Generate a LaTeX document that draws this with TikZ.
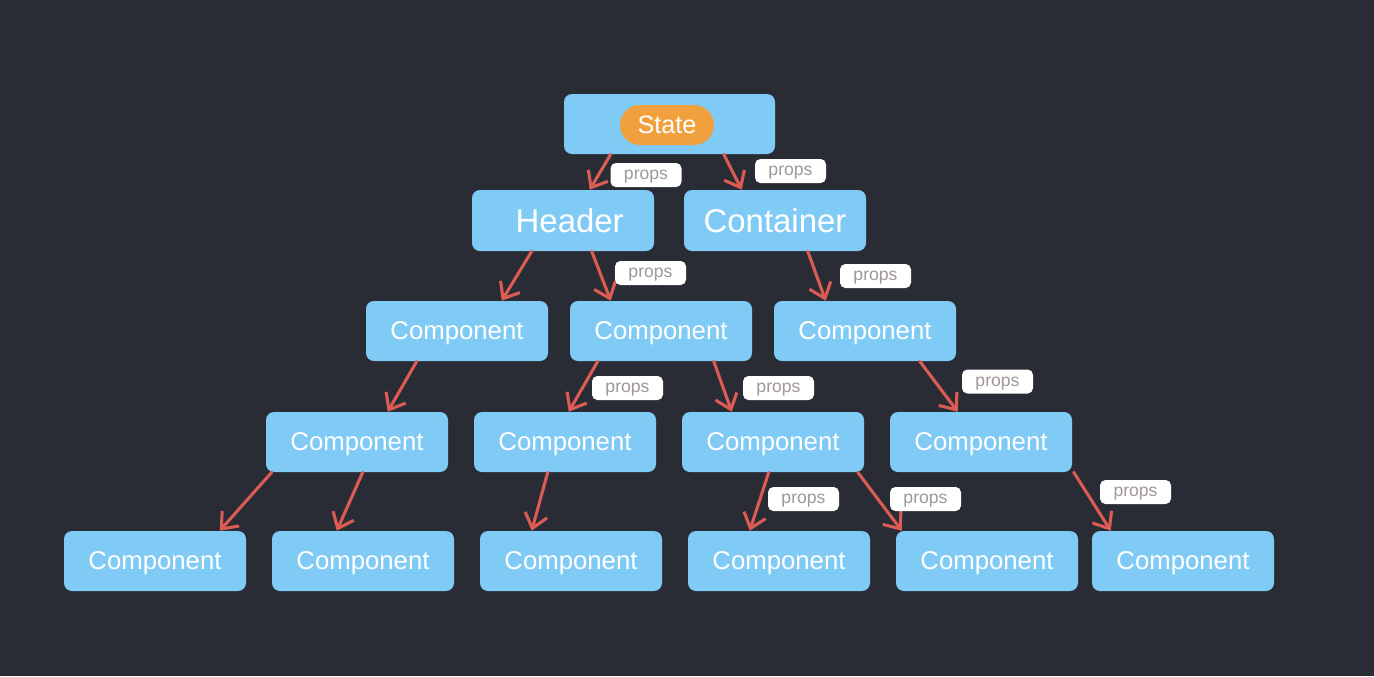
\documentclass[tikz,border=0pt]{standalone}
\usepackage{fontspec}
\setmainfont{Liberation Sans}
\usetikzlibrary{arrows.meta,calc}
\definecolor{bg}{HTML}{292C34}
\definecolor{boxblue}{HTML}{80CAF6}
\definecolor{statec}{HTML}{F0A03C}
\definecolor{arrowc}{HTML}{DC5C55}
\definecolor{propsc}{HTML}{A09898}
\begin{document}
\begin{tikzpicture}[x=0.75pt,y=-0.75pt,
  comp/.style={fill=boxblue,rounded corners=6pt,minimum width=182*0.75pt,minimum height=60*0.75pt,inner sep=0pt,text depth=0pt,text=white,font=\fontsize{19.3pt}{22pt}\selectfont},
  big/.style={comp,minimum height=61*0.75pt,font=\fontsize{24.7pt}{28pt}\selectfont},
  pill/.style={fill=statec,rounded corners=15pt,minimum width=94*0.75pt,minimum height=40*0.75pt,inner sep=0pt,text depth=0pt,text=white,font=\fontsize{18.9pt}{22pt}\selectfont},
  props/.style={fill=white,rounded corners=4pt,minimum width=71*0.75pt,minimum height=24*0.75pt,inner sep=0pt,text depth=0pt,text=propsc,font=\fontsize{13.2pt}{15pt}\selectfont},
  arr/.style={draw=arrowc,line width=2.3pt,line cap=round,-{Straight Barb[length=10.5pt,width=17pt,line width=2.3pt]}}]
\fill[bg] (0,0) rectangle (1374,676);
\useasboundingbox (0,0) rectangle (1374,676);
% nodes
\node[comp,minimum width=211*0.75pt] (state) at (669.5,124) {};
\node[pill] (statepill) at (667,125) {State};
\node[big] (header) at (563,220.5) {\hspace{10pt}Header};
\node[big] (container) at (775,220.5) {Container};
\node[comp] (c1) at (457,331) {Component};
\node[comp] (c2) at (661,331) {Component};
\node[comp] (c3) at (865,331) {Component};
\node[comp] (r4a) at (357,442) {Component};
\node[comp] (r4b) at (565,442) {Component};
\node[comp] (r4c) at (773,442) {Component};
\node[comp] (r4d) at (981,442) {Component};
\node[comp] (r5a) at (155,561) {Component};
\node[comp] (r5b) at (363,561) {Component};
\node[comp] (r5c) at (571,561) {Component};
\node[comp] (r5d) at (779,561) {Component};
\node[comp] (r5e) at (987,561) {Component};
\node[comp] (r5f) at (1183,561) {Component};
% arrows
\draw[arr] ($(state.south west)+(47,0)$) -- ($(header.north west)+(118,0)$);
\draw[arr] ($(state.south west)+(160,0)$) -- ($(container.north west)+(58,0)$);
\draw[arr] ($(header.south west)+(60,0)$) -- ($(c1.north west)+(136,0)$);
\draw[arr] ($(header.south west)+(120,0)$) -- ($(c2.north west)+(41,0)$);
\draw[arr] ($(container.south west)+(124,0)$) -- ($(c3.north west)+(52,0)$);
\draw[arr] ($(c1.south west)+(51,0)$) -- ($(r4a.north west)+(122,0)$);
\draw[arr] ($(c2.south west)+(28,0)$) -- ($(r4b.north west)+(95,0)$);
\draw[arr] ($(c2.south west)+(144,0)$) -- ($(r4c.north west)+(50,0)$);
\draw[arr] ($(c3.south west)+(146,0)$) -- ($(r4d.north west)+(68,0)$);
\draw[arr] ($(r4a.south west)+(6,0)$) -- ($(r5a.north west)+(156,0)$);
\draw[arr] ($(r4a.south west)+(97,0)$) -- ($(r5b.north west)+(65,0)$);
\draw[arr] ($(r4b.south west)+(74,0)$) -- ($(r5c.north west)+(52,0)$);
\draw[arr] ($(r4c.south west)+(87,0)$) -- ($(r5d.north west)+(62,0)$);
\draw[arr] ($(r4c.south west)+(176,0)$) -- ($(r5e.north west)+(6,0)$);
\draw[arr] ($(r4d.south west)+(184,0)$) -- ($(r5f.north west)+(19,0)$);
% props labels
\node[props] (p1) at (646,175) {props};
\node[props] (p2) at (790.5,171) {props};
\node[props] (p4) at (650.5,273) {props};
\node[props] (p5) at (875.5,276) {props};
\node[props] (p7) at (627.5,388) {props};
\node[props] (p8) at (778.5,388) {props};
\node[props] (p9) at (997.5,381.5) {props};
\node[props] (p13) at (803.5,499) {props};
\node[props] (p14) at (925.5,499) {props};
\node[props] (p15) at (1135.5,492) {props};
\end{tikzpicture}
\end{document}
